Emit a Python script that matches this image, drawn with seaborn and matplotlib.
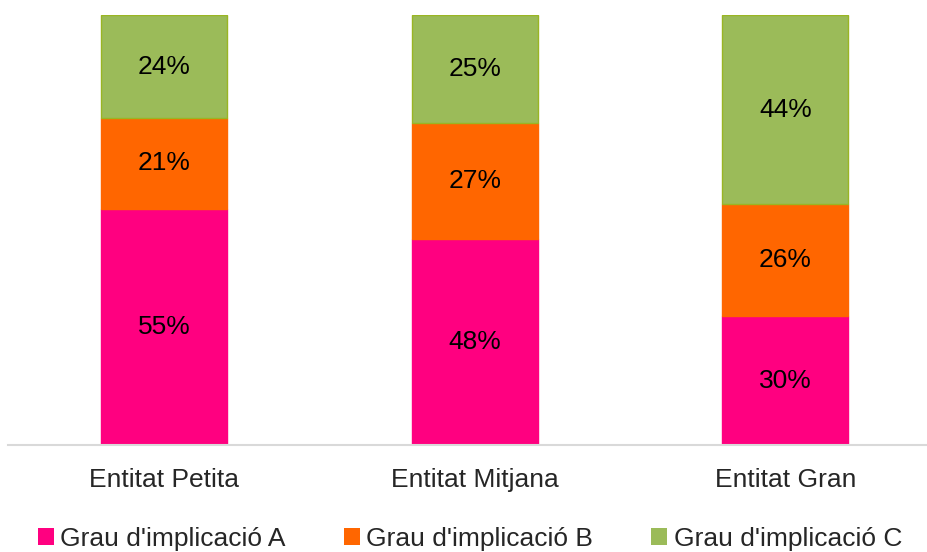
import pandas as pd
import matplotlib.pyplot as plt
import seaborn as sns
from matplotlib.patches import Patch

categories = ["Entitat Petita", "Entitat Mitjana", "Entitat Gran"]
series_names = ["Grau d'implicació A", "Grau d'implicació B", "Grau d'implicació C"]
grau_a = [55, 48, 30]
grau_b = [21, 27, 26]
grau_c = [24, 25, 44]
colors = ["#FF0080", "#FF6600", "#9BBB59"]
edges = ["#FF0080", "#FF6600", "#9AB523"]

sns.set_style("white")
plt.rcParams["font.family"] = ["Liberation Sans", "DejaVu Sans"]

fig = plt.figure(figsize=(9.28, 5.52), dpi=100)
ax = fig.add_axes([8 / 928, 1 - 445 / 552, 1 - 8 / 928, 430 / 552])

# stacked bars, one seaborn call per level
bottom = [0, 0, 0]
for name, vals, col, ec in zip(series_names, [grau_a, grau_b, grau_c], colors, edges):
    df = pd.DataFrame({"cat": categories, "val": vals})
    sns.barplot(data=df, x="cat", y="val", color=col, width=0.405, ax=ax,
                bottom=list(bottom), edgecolor=ec, linewidth=1, saturation=1)
    bottom = [b + v for b, v in zip(bottom, vals)]

for cont, vals in zip(ax.containers, [grau_a, grau_b, grau_c]):
    ax.bar_label(cont, labels=[f"{v}%" for v in vals], label_type="center",
                 fontsize=19, color="black")

ax.set_ylim(0, 100)
ax.set_xlim(-0.502, 2.459)
ax.set_xlabel("")
ax.set_ylabel("")
ax.set_yticks([])
ax.tick_params(axis="x", length=0, pad=16.5, labelsize=19)
for s in ["top", "left", "right"]:
    ax.spines[s].set_visible(False)
ax.spines["bottom"].set_color("#D9D9D9")
ax.spines["bottom"].set_linewidth(1.5)

handles = [Patch(facecolor=c, edgecolor="none") for c in colors]
fig.legend(handles, series_names, loc="center", bbox_to_anchor=(470 / 928, 1 - 539 / 552),
           ncol=3, frameon=False, fontsize=19, handlelength=0.6, handleheight=0.6,
           handletextpad=0.25, columnspacing=2.2, borderpad=0, borderaxespad=0)

fig.savefig("out.png", dpi=100)
